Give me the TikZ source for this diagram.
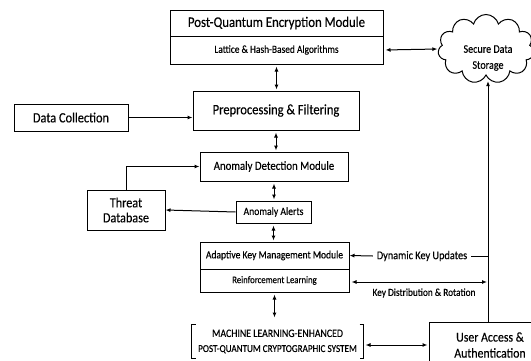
\documentclass[tikz,border=0pt]{standalone}
\usepackage{fontspec}
\setmainfont{Carlito}[FakeStretch=0.87,FakeBold=0.3]
\usetikzlibrary{arrows.meta,shapes.symbols}

\begin{document}
\begin{tikzpicture}[x=1pt,y=-1pt,line width=1pt,
  box/.style={draw,rectangle,inner sep=0pt,align=center},
  fa/.style={font=\fontsize{#1}{16}\selectfont},
  dbl/.style={{Latex[length=5pt,width=4pt]}-{Latex[length=5pt,width=4pt]},shorten <=2pt,shorten >=1pt},
  one/.style={-{Latex[length=5pt,width=4pt]}}]
\useasboundingbox (0,0) rectangle (531,360);
\clip (0,0) rectangle (531,360);
\coordinate (trunk) at (488,200);\coordinate (kd) at (488,282);
% top: encryption and storage
\node[box,minimum width=213pt,minimum height=26pt,fa=14.7] (pqe) at (276.5,23) {Post-Quantum Encryption Module};
\node[box,minimum width=213pt,minimum height=28pt,fa=10.8] (pqesub) at (276.5,50) {Lattice \& Hash-Based Algorithms};
\node[draw,cloud,cloud puffs=11,aspect=1.45,minimum width=96pt,minimum height=69pt,inner sep=0pt] (cloud) at (486,49) {};
\node[align=center,inner sep=0pt,fa=11.6] (store) at (488,58) {Secure Data\\[0pt]Storage};
% middle column
\node[box,minimum width=166pt,minimum height=39pt,fa=14.4] (preproc) at (276,110.5) {Preprocessing \& Filtering};
\node[box,minimum width=114pt,minimum height=27pt,fa=14.2] (data) at (71,117.5) {Data Collection};
\node[box,minimum width=148pt,minimum height=29pt,fa=12.4] (ad) at (274,166.5) {Anomaly Detection Module};
\node[box,minimum width=78pt,minimum height=40pt,fa=14] (threat) at (126,210) {Threat\\[-1pt]Database};
\node[box,minimum width=75pt,minimum height=22pt,fa=11.1] (alerts) at (273.5,212) {Anomaly Alerts};
\node[box,minimum width=149pt,minimum height=27pt,fa=11] (akm) at (274.5,255.5) {Adaptive Key Management Module};
\node[box,minimum width=149pt,minimum height=23pt,fa=10] (akmsub) at (274.5,280.5) {Reinforcement Learning};
\node[inner sep=3.5pt,fa=11.8] (dku) at (422,256) {Dynamic Key Updates};
\node[inner sep=0pt,fa=10.7] (kdr) at (424,293) {Key Distribution \& Rotation};
\node[minimum width=171pt,minimum height=33pt,inner sep=0pt,align=center] (mle) at (277.5,341.5) {\fontsize{11.3}{15}\selectfont MACHINE LEARNING-ENHANCED\\[3pt]\fontsize{10.5}{15}\selectfont POST-QUANTUM CRYPTOGRAPHIC SYSTEM};
\node[box,minimum width=122pt,minimum height=46pt,fa=13.6] (ua) at (490,345) {User Access \&\\Authentication};
% brackets
\draw (mle.north west) ++(4,0) -- (mle.north west) -- (mle.south west) -- ++(4,0);
\draw (mle.north east) ++(-4,0) -- (mle.north east) -- (mle.south east) -- ++(-4,0);
% links
\draw[dbl] (pqesub.east) -- (cloud.west);
\draw[dbl] (pqesub.south) -- (pqesub.south |- preproc.north);
\draw[one] (data.east) -- (data.east -| preproc.west);
\draw[dbl] (preproc.south) -- (preproc.south |- ad.north);
\draw[one] (threat.north) |- (ad.west);
\draw[dbl] (ad.south) -- (ad.south |- alerts.north);
\draw[one] (alerts.west) -- (threat.east);
\draw[dbl] (alerts.south) -- (alerts.south |- akm.north);
\draw[dbl,shorten >=7pt] (akmsub.south) -- (akmsub.south |- mle.north);
\draw[one] (dku.west) -- (akm.east);
\draw (dku.east) -- (dku.east -| trunk);
\draw[dbl] (akmsub.east |- kd) -- (kd);
\draw[one,shorten >=5pt] (ua.north -| trunk) -- (trunk |- cloud.south);
\draw[dbl] (mle.east |- ua.west) -- (ua.west);
\end{tikzpicture}
\end{document}
